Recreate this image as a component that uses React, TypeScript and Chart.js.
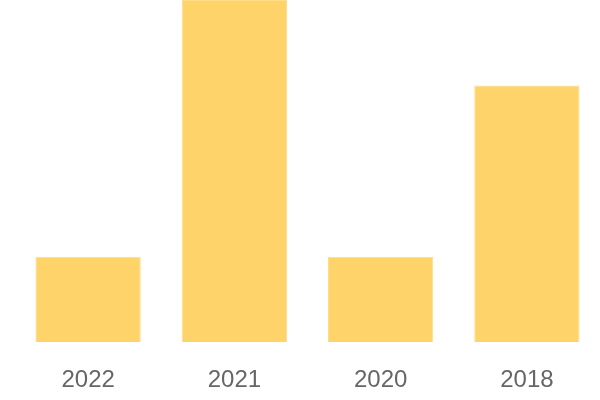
import React, { useEffect, useRef } from "react";
import { Chart, registerables } from "chart.js";

Chart.register(...registerables);

const categories = ["2022", "2021", "2020", "2018"];
const values = [1, 4, 1, 3];

export default function App() {
  const ref = useRef<HTMLCanvasElement | null>(null);
  useEffect(() => {
    document.body.style.margin = "0";
    document.body.style.overflow = "hidden";
    const chart = new Chart(ref.current!, {
      type: "bar",
      data: {
        labels: categories,
        datasets: [
          {
            data: values,
            backgroundColor: "#FED46A",
            borderColor: "#FFDE85",
            borderWidth: 1,
          },
        ],
      },
      options: {
        animation: false,
        responsive: false,
        layout: { padding: { left: 15, right: 0, top: 0, bottom: -19 } },
        plugins: { legend: { display: false }, tooltip: { enabled: false } },
        scales: {
          x: {
            grid: { display: false, drawTicks: false },
            border: { display: false },
            ticks: {
              color: "#666",
              font: { size: 24, family: "'Liberation Sans', Arial, sans-serif" },
              padding: 24,
            },
          },
          y: { display: false, min: 0, max: 4 },
        },
      },
    });
    return () => chart.destroy();
  }, []);
  return (
    <div style={{ width: 600, height: 400 }}>
      <canvas ref={ref} width={600} height={400} style={{ display: "block" }} />
    </div>
  );
}
